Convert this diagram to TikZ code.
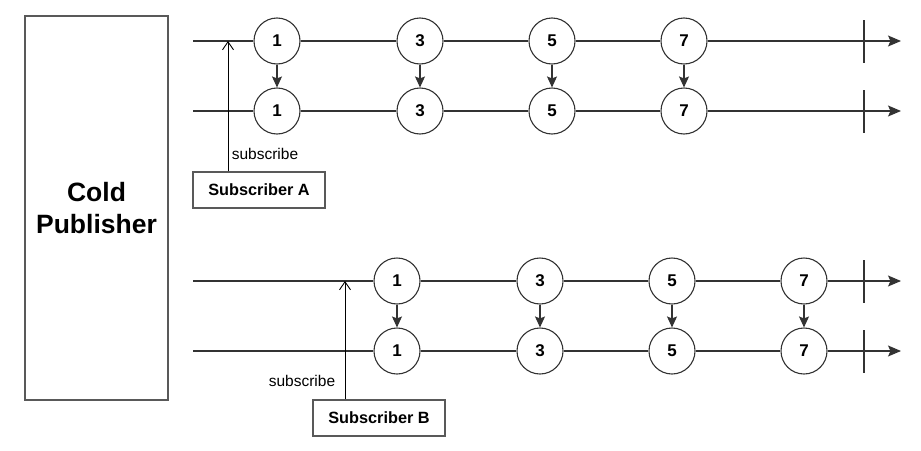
\documentclass[tikz,border=0pt]{standalone}
\usepackage{fontspec}
\setmainfont{Liberation Sans}
\usetikzlibrary{arrows.meta}
\begin{document}
\begin{tikzpicture}[x=1pt,y=-1pt,
  line/.style={draw=black!80, line width=1.1pt},
  flow/.style={line, -{Stealth[length=13pt,width=11pt,inset=2.5pt]}},
  drop/.style={line, -{Stealth[length=11pt,width=10pt,inset=2pt]}},
  sub/.style={draw=black, line width=0.9pt, -{Straight Barb[length=8pt,width=11pt]}},
  item/.style={circle, draw=black!80, line width=1.1pt, fill=white, minimum size=46pt, inner sep=0pt, font=\fontsize{17}{19}\selectfont\bfseries},
  box/.style={draw=black!65, line width=1.2pt, fill=white, inner sep=0pt},
  tick/.style={draw=black!80, line width=1.1pt},
  lbl/.style={font=\fontsize{15.5}{18}\selectfont}
]
\useasboundingbox (0,0) rectangle (921,450);

% publisher
\node[box, minimum width=143pt, minimum height=384pt, align=center,
      font=\fontsize{26.5}{32}\selectfont\bfseries] (pub) at (96.5,208) {Cold\\Publisher};

% ---- subscriber A ----
\foreach \r/\y in {a/41, b/111} {
  \coordinate (\r s) at (193,\y);
  \coordinate (\r e) at (901,\y);
  \foreach \i/\x in {1/277, 3/420, 5/552, 7/684}
    \node[item] (\r\i) at (\x,\y) {\i};
  \draw[line] (\r s) -- (\r1);
  \draw[line] (\r1) -- (\r3);
  \draw[line] (\r3) -- (\r5);
  \draw[line] (\r5) -- (\r7);
  \draw[flow] (\r7) -- (\r e);
  \coordinate (\r t1) at (864,\y-21);
  \coordinate (\r t2) at (864,\y+22);
  \draw[tick] (\r t1) -- (\r t2);
}
\foreach \i in {1,3,5,7}
  \draw[drop] (a\i) -- (b\i);

\node[box, minimum width=132pt, minimum height=36pt,
      font=\fontsize{16.3}{18}\selectfont\bfseries] (subA) at (259,190) {Subscriber A};
\coordinate (subAt) at (228,41);
\draw[sub] (subA.north -| subAt) -- (subAt);
\node[lbl] (lblA) at (265,154) {subscribe};

% ---- subscriber B ----
\foreach \r/\y in {c/281, d/351} {
  \coordinate (\r s) at (193,\y);
  \coordinate (\r e) at (901,\y);
  \foreach \i/\x in {1/397, 3/540, 5/672, 7/804}
    \node[item] (\r\i) at (\x,\y) {\i};
  \draw[line] (\r s) -- (\r1);
  \draw[line] (\r1) -- (\r3);
  \draw[line] (\r3) -- (\r5);
  \draw[line] (\r5) -- (\r7);
  \draw[flow] (\r7) -- (\r e);
  \coordinate (\r t1) at (864,\y-21);
  \coordinate (\r t2) at (864,\y+22);
  \draw[tick] (\r t1) -- (\r t2);
}
\foreach \i in {1,3,5,7}
  \draw[drop] (c\i) -- (d\i);

\node[box, minimum width=132pt, minimum height=36pt,
      font=\fontsize{16.3}{18}\selectfont\bfseries] (subB) at (379,418) {Subscriber B};
\coordinate (subBt) at (345,281);
\draw[sub] (subB.north -| subBt) -- (subBt);
\node[lbl] (lblB) at (302,381) {subscribe};
\end{tikzpicture}
\end{document}
